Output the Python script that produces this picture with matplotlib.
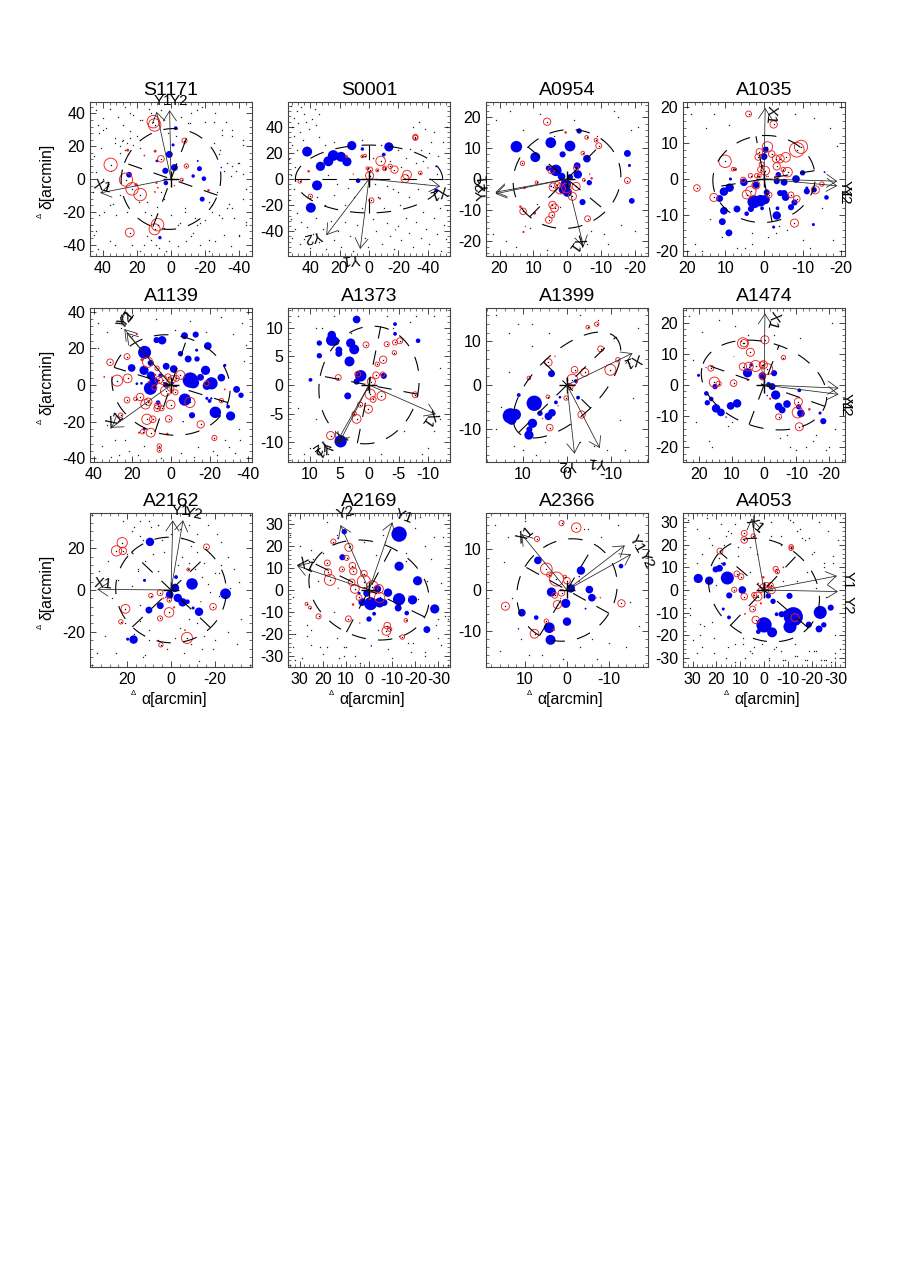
import numpy as np
import matplotlib
matplotlib.use("Agg")
import matplotlib.pyplot as plt
from matplotlib.ticker import AutoMinorLocator

plt.rcParams['font.family'] = ['Liberation Sans', 'DejaVu Sans']
plt.rcParams['axes.unicode_minus'] = False

names = ["S1171", "S0001", "A0954", "A1035", "A1139", "A1373",
         "A1399", "A1474", "A2162", "A2169", "A2366", "A4053"]

# half widths of the axes, x and y
xlims = [47.5, 55, 24, 21, 42, 13.7, 18.3, 25, 37, 35, 19.2, 34]
ylims = [47, 59, 25, 21.3, 42, 13.4, 17.7, 24.7, 36.8, 35, 19, 34]

t40 = [40, 20, 0, -20, -40]
t20 = [20, 10, 0, -10, -20]
t10 = [10, 5, 0, -5, -10]
t1 = [10, 0, -10]
t2 = [20, 0, -20]
t30 = [30, 20, 10, 0, -10, -20, -30]
xticks = [t40, t40, t20, t20, t40, t10, t1, t20, t2, t30, t1, t30]
yticks = [t40, t40, t20, t20, t40, t10, t1, t20, t2, t30, t1, t30]

# ellipse: a, b, position angle
ellipses = [(29, 31, 20), (50, 26, 0), (16.5, 15.5, 132), (13.3, 12, -10),
            (31, 27, 18), (8.4, 10.3, 11), (15.5, 7.5, 135), (20, 13.5, 20),
            (25.5, 25, 45), (27, 21.5, 27), (11.5, 13, 30), (25, 21, 42)]

# arrows: name, tip x, tip y
arrows = [
    [("X1", 41.5, -8.5), ("Y1", 8.5, 41), ("Y2", 0.8, 42)],
    [("X1", -48.3, -5.6), ("Y1", 6, -53.6), ("Y2", 29, -43)],
    [("X1", -4.9, -22), ("Y1", 21.2, -4.3), ("Y2", 21.2, -4.8)],
    [("X1", -0.3, 19.7), ("Y1", -19, -0.6), ("Y2", -19, -1.9)],
    [("X1", 30.9, -23.3), ("Y1", 24.2, 30.5), ("Y2", 23, 28.5)],
    [("X1", -11.3, -5.1), ("Y1", 5.6, -10.2), ("Y2", 5.1, -10.2)],
    [("X1", -14.8, 7.3), ("Y1", -7.4, -14.5), ("Y2", -1.7, -15.8)],
    [("X1", -0.3, 23), ("Y1", -23, -1), ("Y2", -23, -3)],
    [("X1", 33.7, 0.3), ("Y1", -0.8, 33.3), ("Y2", -5.5, 33.3)],
    [("X1", 31, 11), ("Y1", -10.1, 30.8), ("Y2", 12.3, 29.5)],
    [("X1", 10.8, 13.8), ("Y1", -13.7, 11), ("Y2", -15.2, 8.8)],
    [("X1", 5.2, 31.6), ("Y1", -30.6, 6.2), ("Y2", -31, -0.7)],
]
# where the arrow names sit: x, y, rotation
arrow_text = [
    [(40, -4.8, 345), (4.5, 47.7, 0), (-4.7, 47.7, 0)],
    [(-47, -10, 200), (12.4, -60.8, 185), (38, -44, 195)],
    [(-2.9, -20.8, 235), (24.7, -1.3, 95), (25.2, -4, 95)],
    [(-1.7, 17.9, 265), (-21, -2.8, 270), (-21, -4.4, 270)],
    [(29, -19, 40), (23, 36.4, 50), (23.6, 35.2, 50)],
    [(-10.2, -5.8, 235), (7.9, -11, 215), (8.3, -10.6, 215)],
    [(-14.8, 5.8, 200), (-6.7, -17.7, 175), (-0.1, -18.5, 180)],
    [(-2.7, 21, 255), (-25.3, -5.4, 270), (-25.3, -7, 270)],
    [(31, 2.9, 355), (-4.7, 37.6, 0), (-10.5, 36.5, 350)],
    [(27.4, 11, 335), (-14.9, 33.5, 340), (10.1, 35, 15)],
    [(9.8, 13.6, 40), (-16.6, 11.3, 300), (-18.7, 7.5, 295)],
    [(3.8, 28.7, 320), (-35, 4.1, 270), (-35, -6.6, 270)],
]

# blue filled galaxies: x, y, size
blue = [
    [(-2.8,31,10),(-1.2,20.8,8),(1,15,18),(-2,7,18),(3.3,5,16),(8.3,11,7),(24.6,2.6,15),(3,-2.4,12),
     (-16.7,6.3,13),(-15.7,11,5),(-13,1.8,9),(-19.3,0.2,12),(-18.3,-12.3,13),(-29.5,7,4),(6.5,-35.8,9)],
    [(42,21,26),(11.7,25.6,24),(-13.5,24.6,24),(4.5,23,9),(-10,18.7,10),(24.3,18,28),(19,17,26),(15,13.3,24),
     (27.6,13.6,26),(33,9.7,24),(35.3,-4.9,26),(39.5,-22,26),(7.4,-1.3,12),(-45.6,-8.7,10),(-45.6,9.7,5)],
    [(15,10.5,30),(4.8,11.8,28),(-0.9,10.7,28),(9.4,7.1,26),(1.3,8,16),(-3.6,15.6,14),(-5.9,6.6,20),(-3,4.3,18),
     (-3.2,1.5,22),(5.5,3.5,14),(3.3,2.8,30),(1.6,0.8,20),(-0.9,0.6,16),(0.4,-1.8,28),(-0.1,-4.3,24),(1.2,-3.5,22),
     (-6.6,-1.2,14),(-4.6,-7.5,16),(-17.9,8.3,18),(-18.5,4.4,8),(-19.2,-7.1,15),(4.7,-2.4,5)],
    [(0,6.2,18),(-0.4,8.1,16),(8.7,0,8),(5.2,-0.9,20),(2.1,-1.7,18),(8.9,-2.4,22),(10.4,-3.5,22),(11.5,-5.4,18),
     (0.9,-6,30),(2.6,-6.3,34),(-0.3,-5.7,24),(-0.7,-3.7,16),(-3.7,1.2,14),(-3.3,-0.6,16),(-5.2,-0.9,18),(-8.3,0,20),
     (-10,1.7,14),(-15.7,1.9,5),(-11.1,-2.5,8),(-11.1,-3.4,16),(-13,-3,14),(-16.2,-5.1,12),(-4.2,-3.9,16),(-5.2,-4,18),
     (-5.6,-5,20),(-7,-7.8,16),(-7.9,-6.5,16),(-3.3,-10.1,22),(-3.5,-8.1,10),(0.5,-8.1,10),(3.4,-8.3,16),(4.5,-9.6,12),
     (7,-8.3,18),(10.4,-8.8,20),(10.8,-11.8,18),(9.1,-14.9,18),(-2.5,-13.3,8),(-12.8,-12.6,8)],
    [(13.7,17.8,34),(7.5,24.5,16),(4.6,24.4,22),(-7,26.9,18),(-12.8,27.5,16),(-19.1,21.3,20),(-4.9,17.1,14),(-13.3,19,8),
     (-8.9,14.2,18),(-13.5,14.2,14),(20.4,9.3,20),(10.5,12,16),(14,8,24),(2.5,10.2,18),(-1.4,8.7,20),(10.4,5.1,22),
     (5.4,5.1,12),(10.7,-1.8,34),(8.9,1.8,24),(-10,2.7,40),(-11.6,1.3,30),(-17.9,8,24),(-15.3,4.2,18),(-26.1,4,20),
     (-21,0.9,32),(-18.6,-0.4,22),(-23,-14.9,30),(-30.9,-16.9,24),(-7.2,-8,32),(-10.9,-16.5,16),(-18.6,-7.3,8),(-20,-8.7,10),
     (-20.9,-7.3,6),(-29.6,-11.8,10),(-34,-2.4,18),(-36.3,-5.6,14),(-27.9,10.7,8),(6.7,-9.6,12),(17.7,0.7,7),(15.3,0.9,7),
     (13.9,-24,8),(-6.3,-20,4),(2.8,0,14),(-0.7,0.9,8)],
    [(2.1,11.4,20),(-4.4,10.6,10),(-4.4,8.9,10),(-8.3,7.7,12),(6.3,8.7,22),(6.3,7.8,30),(5.7,7.6,22),(8.4,7.3,14),
     (5.1,6.1,18),(5.1,5.5,18),(8.4,5.1,14),(3.1,7.3,24),(2.5,6.2,26),(3.3,4.1,26),(9.9,0.9,10),(1.4,1.6,30),
     (2.1,0.6,16),(-2.5,1.6,16),(3.6,-1.9,18),(4.8,-9.8,32)],
    [(12.8,-7.1,40),(11.7,-6.8,30),(12.5,-8.1,24),(7.4,-4.2,40),(7.8,-8.8,24),(8.5,-10.2,16),(8.6,-11.5,24),(6.1,-6.5,14),
     (3.4,-6.4,20),(4.2,-7.2,20),(3.5,2.6,18),(10.9,-2.3,10),(2.5,-4,10),(1.6,-2.8,7),(-2.5,-2.9,10),(-2,0.9,10),(-0.3,0,10)],
    [(20.2,3.1,8),(17.8,-2.7,12),(16.3,-4.5,12),(17.5,-5.7,14),(15.1,-0.5,14),(14.8,-7.5,22),(13.3,-8.8,20),(11.7,-10.3,4),
     (10.3,-6.7,20),(8.3,-5.9,22),(5.1,3.9,24),(3.9,6.5,10),(0.5,2.9,20),(-3.1,3.8,16),(-1.4,0.2,12),(-2.5,-0.5,18),
     (-3.6,-3.2,24),(-1,-3.4,4),(-4.5,-6.9,20),(-5.6,-8,18),(-7.1,-6.1,20),(-10.9,-1.7,10),(-10.7,-7,14),(-11.4,-9.1,20),
     (-17.3,-9,8),(-18.3,-11.6,16),(17.9,5.6,3)],
    [(9.6,23,22),(12.1,4.6,8),(-9.6,2.9,30),(-1.8,1,22),(-2.3,6.2,10),(0.6,-2.2,20),(-3.1,-3.8,22),(-5.3,-5.9,22),
     (-7.5,-5.6,12),(-24.9,-1.8,28),(-12.8,-10.4,22),(-10.1,-8.6,8),(4.9,-7.5,18),(10.1,-9.6,18),(17.1,-23.7,22),(19.8,-23.5,8)],
    [(-13,25.4,40),(-13,10.8,24),(10.7,26.5,14),(13.3,23.5,5),(11.5,14.9,16),(-21,4.2,24),(-8.2,-1.2,22),(-3.6,0.5,20),
     (1,-1.5,18),(2.9,-5.5,20),(-0.7,-6.2,34),(-4.6,-5.7,26),(-6.5,-5.7,18),(-13,-4.2,32),(-18.8,-4.5,24),(-12.6,-8.2,18),
     (-16.3,-10.5,12),(-28.4,-8.6,24),(-25,-18,18),(0,-13.2,14),(-2.2,-10.8,10),(-1,-25.4,4),(25.3,9.2,4),(4.3,-1.5,8)],
    [(6.9,7.3,20),(-3.3,4.8,22),(-0.9,0.4,22),(3.7,-0.5,24),(-5.3,0.1,20),(-5.9,-1.9,20),(0.3,-3.3,24),(10.7,-5.6,20),
     (7.3,-6.8,12),(0,-7.8,22),(4.2,-9.3,28),(3.9,-12.3,26),(-12.8,5.9,12),(11.5,-9.6,4),(-4.4,-4.6,5),(-2.9,3.3,4)],
    [(27.6,5.1,24),(23,4.1,22),(20.3,9.1,16),(18.7,9.6,18),(16.8,11.5,10),(15.4,5.3,34),(9.1,0,20),(14.6,-2.4,16),
     (17.1,-8.4,8),(14.7,-12.1,10),(-1.8,-2.6,14),(-3.8,-5,14),(-10.7,-2.6,16),(0,-15.4,40),(2.4,-18.4,12),(-3.4,-18.7,26),
     (-5.3,-10.7,10),(-7.4,-10.7,16),(-9.5,-10.6,20),(-12.3,-11.8,50),(-10.9,-16.2,34),(-18.8,-15.3,16),(-23.6,-9.9,34),
     (-28,-7.8,16),(-25.1,-15.4,14),(-23.1,-17.2,18)],
]

# red open circles: x, y, size
red_open = [
    [(10.4,35,34),(9.6,33,34),(35.4,8.7,36),(26.4,-0.4,36),(22.8,-6,34),(18.1,-9.5,34),(5.9,12.3,18),(-7.9,23.4,14),
     (-9,7.9,12),(-6.3,-0.4,8),(7.9,-27.9,34),(9.6,-30.7,30),(24.2,-32.7,24)],
    [(-31.5,32.3,14),(-31.5,31.5,14),(-7.9,13.8,26),(-17.3,7.2,20),(-14.4,9.7,12),(-25.8,3.3,24),(-24.5,0.3,22),(-34.8,4.6,10),
     (-10.6,8.5,10),(-10.6,7.7,10),(-5.6,6.7,8),(-0.7,7.2,14),(-0.4,2.6,22),(1,8.2,8),(4.5,17.4,8),(2.7,17.9,8),
     (-1.6,-16.4,14),(39.8,-13.3,12),(47,-1.8,10)],
    [(5.9,18.6,20),(-5.8,13.5,10),(-8.6,12.6,10),(-9.4,10.8,16),(-4.7,8.4,10),(-2.7,3.5,14),(4.7,2.8,18),(13.2,5.1,12),
     (9,-1.1,8),(-5,-0.3,8),(-2.7,-2.4,22),(4.1,-2.6,22),(2,-3.2,28),(0.2,-2.9,26),(2.9,-1.8,16),(-1.6,-5.6,22),
     (4.3,-8.4,20),(3.7,-9.4,22),(13,-10.5,18),(4.5,-11.7,16),(5.4,-13.3,18),(-6.1,-12.9,16),(-17.9,-0.5,16)],
    [(4,18,16),(-2.5,15.1,20),(10.1,4.9,34),(17.4,-2.5,18),(13,-5.1,22),(8,2.7,10),(7.5,2.7,8),(-8.5,8.1,40),
     (-9.6,8.9,36),(-0.9,8.9,28),(1.2,7.5,18),(1.5,6.1,18),(0.6,4,14),(-2,6.9,18),(-3.1,5.6,20),(-4.2,5.6,22),
     (-5.6,6,26),(-3.3,3.5,20),(-6.1,1.9,26),(-5,2.6,12),(-0.3,2.3,24),(0.9,2.6,16),(1.2,0.9,10),(1.9,0.9,12),
     (3.5,0.9,12),(5.4,-0.2,14),(2.1,-1.7,22),(3.4,-3.4,28),(4.5,-4.3,24),(-1.3,-4.4,16),(-3.3,0.3,12),(-7,-4.4,16),
     (-8.5,-5.5,18),(-13.3,-3,22),(-15,-1.4,12),(-7.9,-12.2,22)],
    [(22.8,15.5,16),(31.6,12.4,18),(12.1,12.4,28),(27.9,2.4,30),(22.5,3.6,24),(7.2,9.1,12),(22.8,-8.2,16),(18.4,-7.6,10),
     (16,-6.5,20),(13.2,-10.5,26),(11.8,-9.1,20),(6.8,-11.3,18),(7.2,-12.7,18),(4.9,-12.7,14),(0.2,-10.7,24),(12.5,-18.7,28),
     (9.5,-18.7,18),(1.2,-18.5,18),(10.5,-26,24),(14.7,-25.5,12),(26.1,-16.5,12),(-15.4,-21.5,20),(-22.5,-28.9,14),(6.1,-33.3,12),
     (6.1,-35.5,12),(-18.4,0.9,14),(-4.9,5.5,24),(-9.8,-9.5,28),(-26.1,-8.5,12),(-2.3,-4,14),(2.8,-3.3,28),(6.3,2.7,20),
     (4.2,2.7,24),(-0.7,3.1,20),(1.6,4.5,16),(-2.8,3.6,16),(8.6,-1.3,14),(0.2,-1.5,18)],
    [(0.5,7,16),(-3,7.1,14),(-4.4,7.4,14),(-5.2,7.7,16),(-4.3,5.6,12),(-2.4,4.4,20),(-1.4,3.6,12),(5.2,1.3,16),
     (1.9,1.9,16),(-1.2,1.7,18),(-2.3,1.9,12),(-0.4,0.6,22),(-7.8,-1.7,16),(-2.1,-1.9,24),(-0.2,-1.6,28),(-0.7,-2.5,16),
     (1.5,-3.4,14),(0.1,-4.2,22),(2.5,-5,12),(2.1,-5.9,24),(6.5,-8.8,22)],
    [(-6.7,14,12),(-4.7,13.3,10),(-7.6,8.3,16),(-11.5,5.8,12),(-9.8,3.5,30),(-1.7,3.5,18),(-4,2.9,22),(4.2,5.2,20),
     (8.6,1.6,10),(-1.2,1.2,30),(-0.7,-0.4,16),(4.3,-2.7,10),(0.2,-3,12),(-3.3,-6.8,20),(3.9,-9.8,18)],
    [(16.4,5.4,16),(6.5,13.4,30),(6.2,13.4,20),(4.2,10.5,22),(-0.3,14.5,22),(-6,8.8,12),(6.5,5.9,20),(4.7,5.9,24),
     (2.6,6.1,30),(0.6,6.5,16),(0.2,6.5,22),(-1,5.1,30),(9.4,0.6,18),(15.3,0.9,28),(14,0.4,14),(0.5,2.7,16),
     (-10.6,-5.4,22),(-10.4,-8.8,30),(-4.5,-10.2,16),(-10.9,-13.4,22)],
    [(22.3,22.6,28),(24.9,18.7,28),(22,18.7,20),(-16.2,20.6,16),(20.8,-9,24),(22.9,-15.2,12),(9.2,-2.7,12),(5,-1.3,16),
     (0.8,-4.8,12),(0.9,-10.7,26),(5,-13.6,14),(-19.2,-8,18),(-7.3,-22.9,30),(4.6,-26.2,12),(-7.9,9.8,8)],
    [(15.4,22,14),(8.7,19.4,22),(9.7,14.6,14),(18,12.3,16),(11.7,9.4,14),(7.2,11,18),(6.8,8.6,20),(17.7,8,20),
     (16.9,4.6,30),(2.2,7.4,18),(7.5,3.5,18),(6.1,0.5,24),(2.2,3.8,36),(-1.4,1.5,32),(-4.3,0.5,24),(-4.6,-3.4,28),
     (4.3,-3.4,16),(8.9,-13.1,16),(21.8,-12,14),(-7.9,-16.2,18),(-7.5,-18.6,24),(-8.9,-17.8,12),(-15.9,-13.8,10),(-14.4,-21.4,12),
     (25.5,-8,8),(27,-6.3,8)],
    [(7.1,12.6,14),(1.3,16.5,14),(-2.2,15.4,26),(4.9,5.2,32),(2.5,2.7,38),(4.2,3.8,14),(0,2.3,18),(1.3,-0.7,18),
     (2.9,-1.3,16),(2.3,-3.6,22),(14.6,-4,22),(-12.9,-3.3,20),(7.7,-10.8,24),(4.9,-7.7,12),(0.5,3.3,8)],
    [(18.5,17.2,16),(8.3,25,16),(8.3,22.1,18),(4.5,23.8,12),(-11.4,19.1,12),(-11.4,18.4,12),(-4.9,9.3,14),(-5.6,8.1,12),
     (11.4,7.1,16),(9.7,5.9,16),(12.5,0.1,14),(8.3,-2.9,18),(4.1,-2.2,14),(2.7,-2.9,24),(4.8,-8.4,16),(3.5,-13.2,20),
     (-13,-12.2,22),(0.3,1.5,16),(-1.1,2.2,14),(-3.2,0,20),(-2.8,2.2,14),(1.3,0,14)],
]

# small red filled points: x, y, size
red_small = [
    [(25.4,17.6,8),(15.6,14.3,5),(9.3,17,8),(20.5,-3.6,9),(8.5,-2.4,6),(7.7,-5.3,5),(9.4,-7.9,5),(-2,-4,4),(-22,-6.9,7)],
    [(15.3,17.4,8),(-7.4,-14.9,6),(10.6,3.8,4),(-18,-39,4),(-40,8.5,4),(-38,-4.4,3),(41,5.9,7)],
    [(0.4,15.1,7),(-7.3,0.2,7),(-6.7,1.6,4),(-10.7,12.5,4),(13.8,-9,7),(9.6,-11.1,8),(12.3,-15.4,4),(12.9,-17.2,6),(12.6,-2.9,7)],
    [(-0.7,0.7,4),(-1.1,0.7,4)],
    [(17.7,27.8,6),(34.6,4.4,5),(15.1,13.8,8),(8.1,5.5,6),(11.6,1.5,6),(1.9,-26.7,7),(16.5,-26,6),(-27.9,-2.4,5)],
    [(1.9,1.9,6),(-0.6,1.3,4),(2.7,-4.9,4)],
    [(2.7,6.6,4),(5.5,-7.7,4),(2,-4.8,4)],
    [(5,1.6,6),(-1.9,-4.4,6),(-14,-7.8,7),(9.3,9.1,3),(0.5,1.8,6)],
    [(3.5,-4,5),(2.4,-3.5,5),(-1.4,-8.3,6),(-6.4,-19.2,5),(-13.6,-5.6,4)],
    [(6.9,-6.6,7),(-0.4,-3.8,8),(4,-15,4),(13.3,0.8,4),(-22.7,4.6,4),(-17.3,-2.8,4)],
    [(-2.9,2.1,5),(-6.9,-1.9,4),(-7.9,-1.9,4),(3.1,-9.8,7),(1.5,-2.1,4)],
    [(8,-10.6,5),(0.3,5.6,7),(1.3,-5.9,6),(3.4,-6.6,4),(2.4,2.9,5),(-8.1,10,5)],
]

# black background galaxies: x, y
dots = [
    [(44,42),(40,37),(36,43),(31,38),(27,44),(42,28),(38,31),(33,25),(28,33),(24,29),(45,14),(41,19),(35,5),(30,16),(19,-14),
     (15,-20),(12,-37),(7,-42),(3,-44),(-4,-41),(-9,-38),(-13,-33),(-17,-40),(-22,-44),(-26,-38),(-31,-34),(-35,-41),(-40,-35),
     (-44,-28),(-37,-24),(-33,-18),(-28,-22),(-24,-16),(-20,-25),(-15,-28),(-11,34),(-6,38),(2,28),(6,42),(13,43),(17,36),(22,39),
     (29,23),(34,-15),(39,-20),(44,-32),(-42,21),(-36,26),(-30,30),(-25,35),(-18,44),(-12,40),(-5,-27),(1,-38),(9,-40),(16,-40),
     (23,-40),(32,-22),(-39,10),(-29,18),(-22,-14),(-8,-20),(14,-35),(26,-20),(36,-38),(43,-43),(-44,-6),(-34,-15),(-27,-8),(-17,-27),
     (28,24),(26,22),(24,25),(30,20),(22,21),(27,18),(33,22),(20,26),(18,19),(25,15),(43,33),(40,30),(-33,10),(-36,8),(-38,5),
     (-31,5),(-40,10),(-42,3),(-35,2),(-28,15),(-25,22),(-30,27),(-36,30),(-42,24),(-20,35),(-15,42),(-26,40),(-32,35),(12,-22),
     (8,-17),(4,-12),(14,-14),(6,-8),(0,-22),(-4,-28),(-8,-18),(-14,-24),(-24,-20),(-30,-24),(-36,-18),(-42,-12),(-44,-26),(-40,-34),
     (30,-10),(36,-16),(42,-22),(45,-34),(33,-40),(18,-44),(4,-30),(-12,-35),(-22,-37),(44,4),(40,0),(46,-8),(37,-4),(12,40),(18,36),
     (24,40),(-3,26),(-10,34)],
    [(53,56),(49,52),(51,47),(46,55),(44,50),(48,43),(52,40),(43,44),(47,36),(51,33),(41,38),(45,30),(39,46),(37,54),(34,50),(36,41),
     (52,26),(49,22),(54,15),(50,9),(53,3),(51,-8),(54,-16),(49,-26),(53,-31),(50,-38),(46,-33),(52,-45),(47,-50),(42,-37),(44,-46),
     (40,-53),(36,-30),(38,-42),(34,-48),(31,-38),(29,-54),(26,-32),(24,-47),(21,-40),(19,-52),(16,-33),(13,-44),(11,-55),(8,-35),
     (3,-45),(1,-52),(-3,-31),(-5,-40),(-9,-50),(-12,-34),(-14,-44),(-17,-54),(-20,-36),(-22,-47),(-25,-30),(-27,-41),(-30,-52),
     (-32,-33),(-35,-45),(-37,-25),(-39,-38),(-41,-50),(-44,-30),(-46,-42),(-49,-55),(-51,-35),(-53,-24),(-48,-22),(-52,-46),
     (30,26),(24,28),(34,32),(5,30),(-3,16),(-8,26),(-14,14),(-20,22),(-25,16),(-22,9),(-28,23),(-32,12),(-35,22),(-30,40),(-34,44),
     (-38,38),(-42,28),(-44,36),(-47,18),(-50,28),(-53,40),(-41,20),(-37,14),(-46,4),(-33,-8),(-27,-14),(-21,-20),(-16,-8),(-10,-22),
     (-6,-14),(5,-22),(10,-14),(16,-20),(24,-12),(30,-20),(35,-14),(28,3),(22,-4),(14,-7),(-4,-4),(-12,-5),(-20,-10)],
    [(21,19),(17,22),(13,16),(8,21),(4,14),(-2,19),(-7,-17),(-12,-21),(-15,20),(-21,17),(22,-18),(15,-22),(11,-16),(6,-23),(-4,-19),
     (-9,14),(-14,22),(-19,16),(-16,-15),(18,-20),(9,-8),(2,-9),(-6,-21),(-11,-18),(-20,-17)],
    [(19,18),(15,14),(11,-16),(7,-19),(3,-15),(-4,-13),(-8,18),(-13,17),(-17,14),(-19,9),(18,-18),(16,-20),(5,-19),(-1,-16),(-6,-14),
     (-12,-19),(-18,-17),(14,-11),(9,15),(-15,-8),(-10,-17),(3,-18),(-3,-15),(13,18)],
    [(38,34),(33,29),(26,31),(20,27),(8,36),(-2,30),(-10,35),(-18,29),(-26,37),(-32,28),(-37,34),(-39,22),(36,-33),(29,-30),(22,-36),
     (-30,-34),(-36,-30),(-24,-38),(33,-22),(27,-38),(14,-33),(-5,-37),(-14,-34),(-28,-30),(-35,-24),(31,-39),(24,-30),(17,-38),
     (-38,13),(-33,-37),(5,-40),(-12,-39),(-22,-36),(38,20)],
    [(12,12),(9,10),(6,12),(2,11),(-3,12),(-7,11),(-11,12),(-12,3),(11,-12),(7,-12),(-9,-12),(-12,-6),(-2,-12),(-6,-8),(-10,-11),
     (12,-4),(9,-6),(8,10),(3,9),(-4,10),(-11,-8),(10,-11),(-8,12)],
    [(16,16),(13,12),(11,14),(8,9),(4,12),(-3,16),(-7,15),(-11,11),(-14,5),(-16,13),(16,-10),(12,-14),(7,-16),(-6,-14),(-13,-15),
     (15,-5),(10,-15),(5,-13),(-3,-13),(-9,-15),(-15,-3),(-12,-8),(13,3),(8,14)],
    [(23,22),(19,17),(14,21),(9,19),(5,16),(-5,-17),(-10,-21),(-15,-18),(-19,-21),(-22,-14),(21,-12),(16,-20),(11,-13),(-7,-16),
     (-13,-20),(-20,-20),(17,-18),(7,14),(-3,16),(-8,-20),(-16,-16),(-21,20),(22,8),(10,-12),(-11,15)],
    [(22,33),(17,30),(13,24),(9,30),(6,31),(-4,29),(-8,31),(-12,27),(-17,31),(-21,27),(-23,23),(20,17),(15,9),(10,-24),(-6,-30),
     (-13,-34),(-19,-28),(17,-21),(12,-31),(-9,-26),(-15,-22),(-22,8),(21,-16),(13,-32),(6,31),
     (-5,16),(-8,13),(-11,10),(-14,6),(-17,3),(-20,8),(-23,12),(-26,16),(-29,10),(-31,4),(-27,1),(-22,-3),(-18,-1),(-15,13),(-12,18),
     (-9,21),(-5,25),(0,27),(4,24),(8,17),(12,14),(15,10),(14,26),(18,28),(10,33),(14,33),(18,2),(24,5),(29,14),(33,9),(27,-4),
     (14,-7),(-4,-18),(-8,-14),(-12,-16),(-2,-23),(2,-28),(6,-24),(10,-19),(14,-15),(-14,-28),(-20,-24),(-26,-20),(-32,-14),(-30,-26),
     (30,-22),(34,-30),(25,-30),(3,18),(-3,12),(6,9)],
    [(34,25),(30,20),(26,13),(22,4),(15,-10),(10,-26),(-4,-18),(-10,-31),(-17,-24),(-22,33),(-27,14),(-31,-25),(-34,-13),(32,-32),(27,-21),
     (20,-29),(13,-31),(-6,25),(-13,33),(-21,-4),(-29,-16),(33,-26),(25,-18),(18,31),(8,20),(-16,13),(-25,4),(-32,24),(29,-31),(21,-26),
     (11,-26),(-8,-21),(-24,-28),(33,-3),(14,25),(-19,-24),(-30,-13),(24,14),(-13,-21),(6,-30),
     (-24,20),(-28,24),(-20,28),(-16,17),(-7,22),(-3,16),(2,22),(25,-25),(18,-26),(11,-30),(4,-33),(-8,-27),(-18,-28),(-24,-30),(-30,-22),
     (-33,-12),(-31,3),(27,-16),(32,-20),(14,-22),(20,17),(25,18)],
    [(17,16),(14,13),(10,17),(5,11),(1,17),(-4,15),(-8,13),(-12,16),(-16,11),(16,-15),(11,-12),(6,-16),(-3,-14),(-7,-17),(-14,-14),
     (-17,-9),(15,7),(9,-16),(-10,-13),(-6,-12),(-15,-3),(13,-2),(-5,15),(1,-17)],
    [(32,31),(28,27),(24,32),(18,29),(14,25),(11,19),(7,30),(3,16),(-3,30),(-7,24),(-11,31),(-15,27),(-19,23),(-23,30),(-27,26),(-31,22),
     (30,-22),(26,-25),(21,-28),(16,-30),(12,-24),(8,-30),(-4,-26),(-9,-31),(-13,-29),(-18,-31),(-22,-27),(-26,-31),(-30,-30),(33,16),
     (28,12),(23,23),(19,14),(15,26),(5,-28),(-2,-31),(-12,30),(-16,23),(-20,16),(-25,10),(-29,12),(31,-11),(27,-20),(22,-14),(12,-32),
     (6,-27),(1,-24),(-8,-31),(-14,-29),(-24,-31),(-32,-26),(29,4),(25,-16),(20,2),(17,20),(9,-24),(-5,-25),(-17,-31),(-21,-27),(-28,-32),
     (26,16),(22,20),(16,24),(12,29),(6,19),(2,26),(-3,24),(-7,20),(-14,26),(-17,22),(-21,17),(-25,12),(-29,15),(-18,8),(-14,4),(-8,4),
     (-22,1),(-26,-3),(-30,-20),(-30,-28),(-25,-31),(-19,-27),(-13,-24),(-7,-27),(-2,-30),(4,-25),(9,-21),(15,-25),(21,-21),(27,-15),
     (31,-8),(28,-28),(6,8),(11,15),(18,12)],
]

# pixel layout of the 3x4 grid
col_left = [90, 288, 486, 683]
col_width = 162
row_top = [102, 308, 513]
row_height = 154


def scatter_size(d, scale=1.0):
    return (np.asarray(d) * scale / 3.0 * 0.72) ** 2


fig = plt.figure(figsize=(8.99, 12.84), dpi=100)

for i, name in enumerate(names):
    r, c = i // 4, i % 4
    ax = fig.add_axes([col_left[c] / 899, 1 - (row_top[r] + row_height) / 1284,
                       col_width / 899, row_height / 1284])
    ax.set_xlim(xlims[i], -xlims[i])
    ax.set_ylim(-ylims[i], ylims[i])
    ax.set_xticks(xticks[i])
    ax.set_yticks(yticks[i])
    ax.xaxis.set_minor_locator(AutoMinorLocator(5))
    ax.yaxis.set_minor_locator(AutoMinorLocator(5))
    ax.tick_params(which='major', direction='in', top=True, right=True, length=4.5, width=0.5,
                   labelsize=11.5, pad=3.5)
    ax.tick_params(which='minor', direction='in', top=True, right=True, length=2, width=0.4)
    for s in ax.spines.values():
        s.set_linewidth(0.8)
        s.set_color('#444444')
    ax.set_title(name, fontsize=14, pad=5)

    dt = np.array(dots[i])
    ax.plot(dt[:, 0], dt[:, 1], ls='none', marker='s', ms=0.9, mew=0, color='#222222', zorder=1)

    bl = np.array(blue[i])
    ax.scatter(bl[:, 0], bl[:, 1], s=scatter_size(bl[:, 2], 1.15), color='#0000ee', lw=0, zorder=2)
    sm = np.array(red_small[i])
    ax.scatter(sm[:, 0], sm[:, 1], s=scatter_size(sm[:, 2], 1.1), color='#ee2222', lw=0, zorder=3)
    op = np.array(red_open[i])
    ax.scatter(op[:, 0], op[:, 1], s=scatter_size(op[:, 2], 1.1), facecolors='none', edgecolors='#ee2222',
               lw=0.65, zorder=3)
    ax.plot(op[:, 0], op[:, 1], ls='none', marker='s', ms=0.9, mew=0, color='k', zorder=4)

    # ellipse with its two axes, all long dashes
    a, b, th = ellipses[i]
    th = np.radians(th)
    ux, uy = np.cos(th), np.sin(th)
    vx, vy = -np.sin(th), np.cos(th)
    t = np.linspace(0, 2 * np.pi, 200)
    ex = a * np.cos(t) * ux + b * np.sin(t) * vx
    ey = a * np.cos(t) * uy + b * np.sin(t) * vy
    dash = (0, (13, 11))
    ax.plot(ex, ey, color='k', lw=0.8, ls=dash, zorder=5)
    ax.plot([-a * ux, a * ux], [-a * uy, a * uy], color='k', lw=0.8, ls=dash, zorder=5)
    ax.plot([-b * vx, b * vx], [-b * vy, b * vy], color='k', lw=0.8, ls=dash, zorder=5)
    ax.plot([0], [0], marker='+', ms=12, mew=1.0, color='k', ls='none', zorder=6)

    for (lab, tx, ty), (lx, ly, rot) in zip(arrows[i], arrow_text[i]):
        ax.annotate('', xy=(tx, ty), xytext=(0, 0), annotation_clip=False, zorder=6,
                    arrowprops=dict(arrowstyle='->,head_length=0.72,head_width=0.47', mutation_scale=10,
                                    lw=0.55, color='#222222', shrinkA=0, shrinkB=0))
        ax.text(lx, ly, lab, fontsize=11, rotation=rot, ha='center', va='center',
                rotation_mode='anchor', zorder=7, clip_on=False)

    if c == 0:
        ax.text(-0.265, 0.52, 'δ[arcmin]', rotation=90, fontsize=11.4, ha='center', va='center',
                transform=ax.transAxes)
        ax.text(-0.31, 0.266, 'Δ', rotation=90, fontsize=5.5, ha='center', va='center',
                transform=ax.transAxes)
    if r == 2:
        ax.text(0.52, -0.214, 'α[arcmin]', fontsize=11.4, ha='center', va='center',
                transform=ax.transAxes)
        ax.text(0.265, -0.175, 'Δ', fontsize=5.5, ha='center', va='center', transform=ax.transAxes)

fig.savefig('out.png', dpi=100)
